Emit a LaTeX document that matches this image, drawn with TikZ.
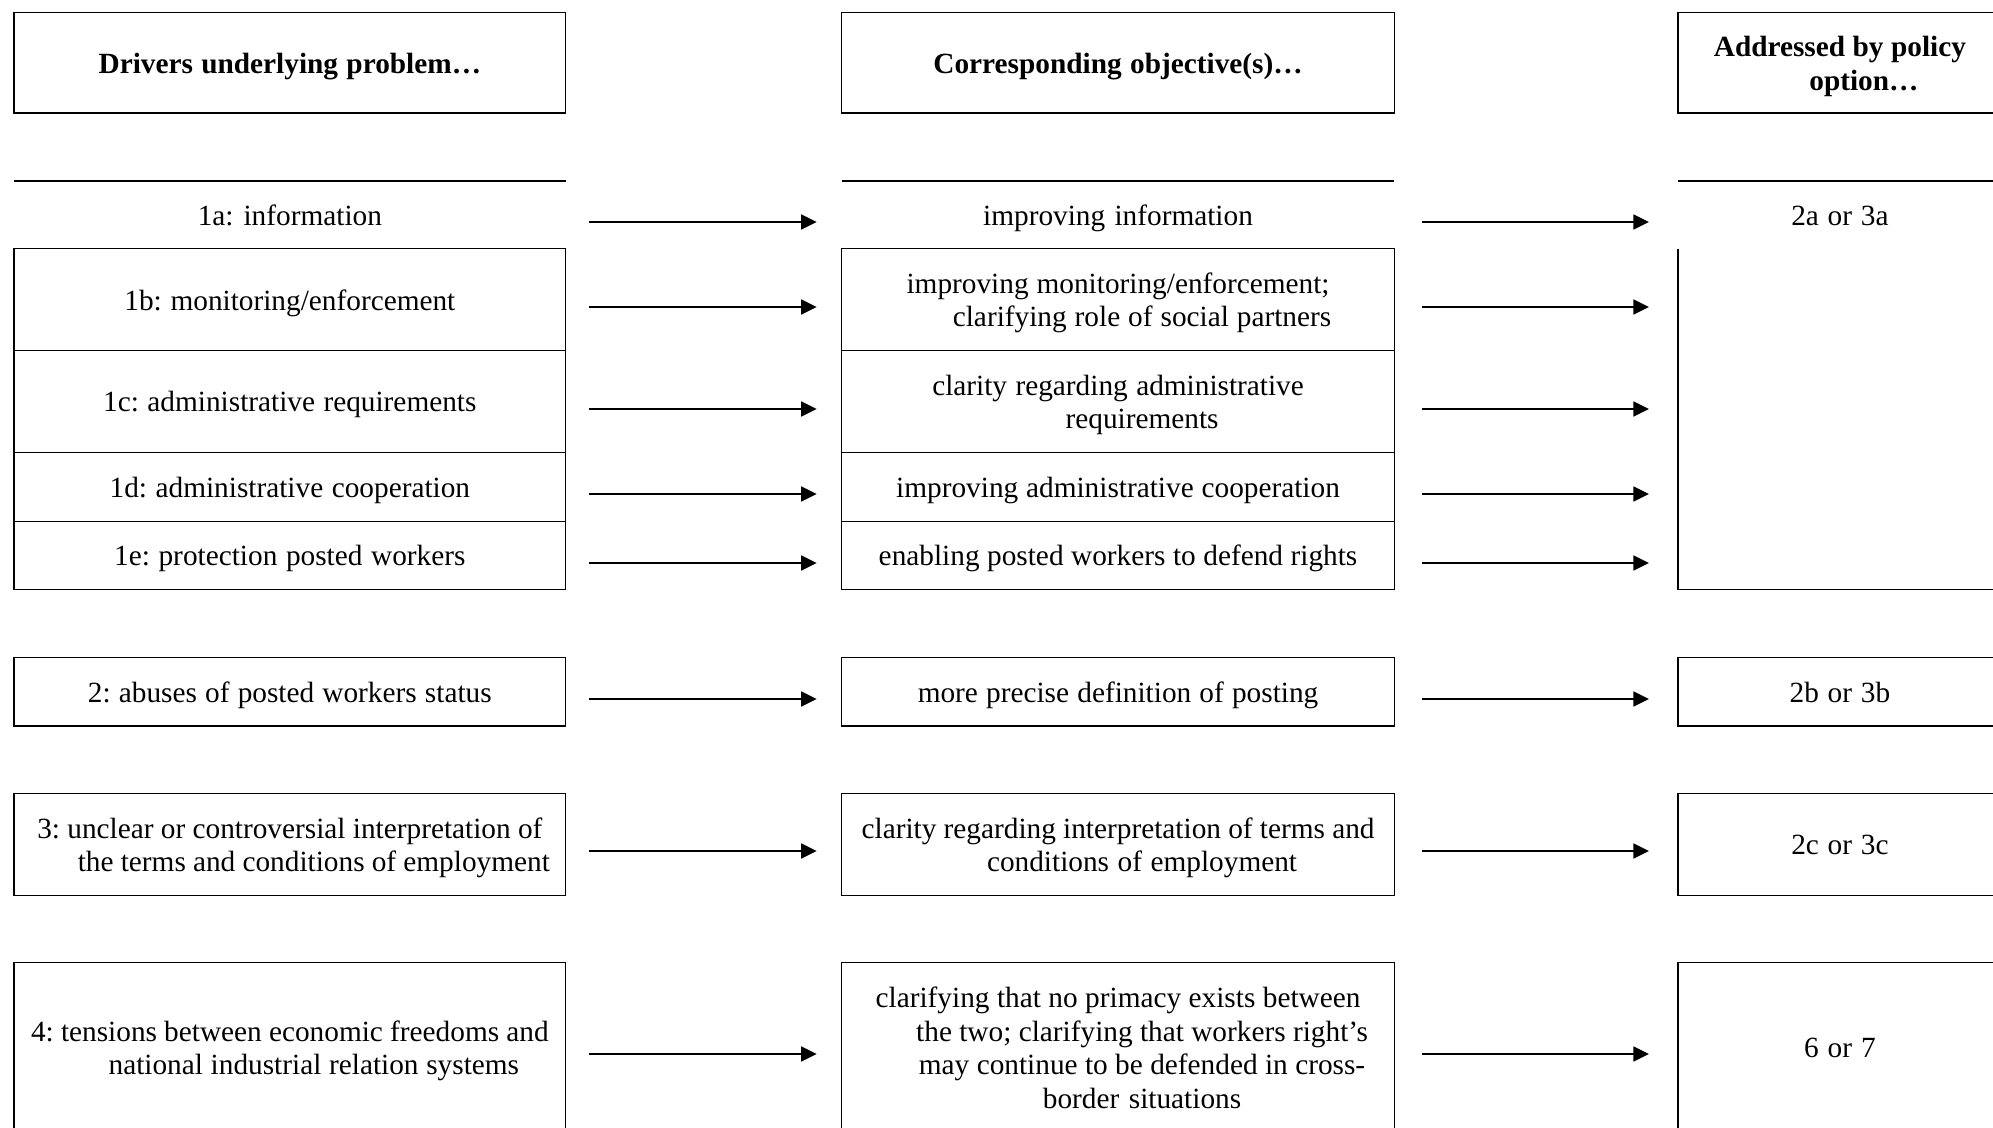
\documentclass[tikz,border=0pt]{standalone}
\usepackage{fontspec}
\setmainfont{Liberation Serif}
\usetikzlibrary{arrows.meta,calc}
\newcommand{\txtfont}{\fontsize{29.3}{33.5}\selectfont\spaceskip=7pt plus 1pt minus 1pt\relax}
\newcommand{\hb}[1]{{\bfseries\spaceskip=7pt plus 1pt minus 1pt\relax #1}}
\tikzset{
  base/.style={inner sep=0pt, outer sep=0pt, align=center, font=\txtfont,
    execute at begin node={\spaceskip=7pt plus 1pt minus 1pt\relax\rule{0pt}{29pt}}, execute at end node={\rule[-8pt]{0pt}{8pt}}},
  c1/.style={base, minimum width=551.7pt, text width=540pt},
  c2/.style={base, minimum width=552.7pt, text width=540pt},
  c3/.style={base, minimum width=324pt, text width=310pt},
  frame/.style={draw, line width=1.4pt},
  thin/.style={draw, line width=1pt},
  rule/.style={line width=1.4pt},
  arr/.style={line width=1.7pt, -{Triangle[length=15.5pt,width=15pt]}},
}
\newcommand{\ind}{\hspace*{48pt}}
\begin{document}
\frenchspacing
\begin{tikzpicture}[x=1pt,y=-1pt]
\useasboundingbox (0,0) rectangle (1993,1127);
\clip (0,0) rectangle (1993,1127);
% headers
\node[c1, frame, minimum height=100.5pt] (h1) at (289.85,62.75) {\hb{Drivers underlying problem…}};
\node[c2, frame, minimum height=100.5pt] (h2) at (1118.05,62.75) {\hb{Corresponding objective(s)…}};
\node[c3, frame, minimum height=100.5pt] (h3) at (1839.9,62.75) {\hb{Addressed by policy}\\\ind\hb{option…}};
% row 1a
\node[c1, minimum height=67.7pt] (d1a) at (289.85,214.85) {1a: information};
\node[c2, minimum height=67.7pt] (o1a) at (1118.05,214.85) {improving information};
\node[c3, minimum height=67.7pt] (p1a) at (1839.9,214.85) {2a or 3a};
\draw[rule] (d1a.north west) -- (d1a.north east);
\draw[rule] (o1a.north west) -- (o1a.north east);
\draw[rule] (p1a.north west) -- (p1a.north east);
% rows 1b-1e, column 1
\node[c1, thin, minimum height=101.8pt] (d1b) at (289.85,299.6) {1b: monitoring/enforcement};
\node[c1, thin, minimum height=101.5pt] (d1c) at (289.85,401.25) {1c: administrative requirements};
\node[c1, thin, minimum height=69pt] (d1d) at (289.85,486.5) {1d: administrative cooperation};
\node[c1, thin, minimum height=68.5pt] (d1e) at (289.85,555.25) {1e: protection posted workers};
\draw[rule] (d1b.north west) rectangle (d1e.south east);
% rows 1b-1e, column 2
\node[c2, thin, minimum height=101.8pt] (o1b) at (1118.05,299.6) {improving monitoring/enforcement;\\\ind clarifying role of social partners};
\node[c2, thin, minimum height=101.5pt] (o1c) at (1118.05,401.25) {clarity regarding administrative\\\ind requirements};
\node[c2, thin, minimum height=69pt] (o1d) at (1118.05,486.5) {improving administrative cooperation};
\node[c2, thin, minimum height=68.5pt] (o1e) at (1118.05,555.25) {enabling posted workers to defend rights};
\draw[rule] (o1b.north west) rectangle (o1e.south east);
% rows 1b-1e, column 3 (merged cell)
\node[c3, minimum height=340.8pt] (p1be) at (1839.9,419.1) {};
\draw[rule] (p1be.north west) -- (p1be.south west) -- (p1be.south east) -- (p1be.north east);
% row 2
\node[c1, frame, minimum height=68.3pt] (d2) at (289.85,691.85) {2: abuses of posted workers status};
\node[c2, frame, minimum height=68.3pt] (o2) at (1118.05,691.85) {more precise definition of posting};
\node[c3, frame, minimum height=68.3pt] (p2) at (1839.9,691.85) {2b or 3b};
% row 3
\node[c1, frame, minimum height=102pt] (d3) at (289.85,844.3) {3: unclear or controversial interpretation of\\\ind the terms and conditions of employment};
\node[c2, frame, minimum height=102pt] (o3) at (1118.05,844.3) {clarity regarding interpretation of terms and\\\ind conditions of employment};
\node[c3, frame, minimum height=102pt] (p3) at (1839.9,844.3) {2c or 3c};
% row 4
\node[c1, frame, minimum height=169.5pt] (d4) at (289.85,1047.25) {4: tensions between economic freedoms and\\\ind national industrial relation systems};
\node[c2, frame, minimum height=169.5pt] (o4) at (1118.05,1047.25) {clarifying that no primacy exists between\\\ind the two; clarifying that workers right's\\\ind may continue to be defended in cross-\\\ind border situations};
\node[c3, frame, minimum height=169.5pt] (p4) at (1839.9,1047.25) {6 or 7};
% arrows column 1 -> column 2
\foreach \r/\s in {1a/7.15,1b/7.4,1c/7.75,1d/7.5,1e/7.75,2/7.15,3/6.7,4/6.75}{
  \draw[arr] ($(d\r.east)+(23.6pt,-\s pt)$) -- ($(o\r.west)+(-25pt,-\s pt)$);
}
% arrows column 2 -> column 3
\foreach \r/\t/\s in {1a/p1a/7.15,1b/p1be/7.4,1c/p1be/7.75,1d/p1be/7.5,1e/p1be/7.75,2/p2/7.15,3/p3/6.7,4/p4/6.75}{
  \draw[arr] ($(o\r.east)+(27.3pt,-\s pt)$) -- ($(o\r.east -| \t.west)+(-29pt,-\s pt)$);
}
\end{tikzpicture}
\end{document}
